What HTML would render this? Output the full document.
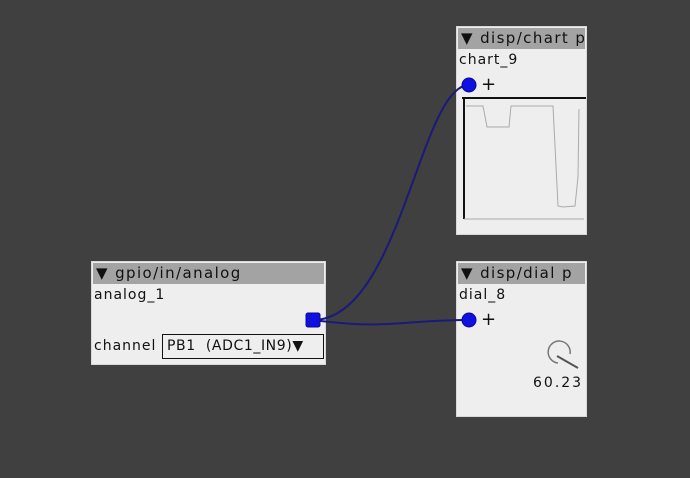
<!DOCTYPE html>
<html><head><style>
body{margin:0;width:690px;height:478px;background:#404040;position:relative;overflow:hidden;font-family:"DejaVu Sans","Liberation Sans",sans-serif;}
.box{position:absolute;background:#eeeeee;border:1px solid #d8d8d8;}
.hd{position:absolute;left:1px;right:1px;top:1px;height:21px;background:#a3a3a3;font-size:15px;letter-spacing:1.4px;line-height:21px;padding-left:3px;color:#111;white-space:nowrap;overflow:hidden;}
.t{position:absolute;font-size:14px;letter-spacing:1px;color:#111;white-space:nowrap;}
</style></head><body>
<div class="box" style="left:456px;top:26px;width:129px;height:207px;">
 <div class="hd">▼ disp/chart p</div>
 <div class="t" style="left:2px;top:25px;">chart_9</div>
 <div class="t" style="left:24px;top:47px;font-size:18px;">+</div>
 <svg style="position:absolute;left:0;top:0" width="129" height="207">
  <line x1="5" y1="71" x2="129" y2="71" stroke="#111" stroke-width="2"/>
  <line x1="7" y1="71" x2="7" y2="192" stroke="#111" stroke-width="2"/>
  <line x1="7" y1="192" x2="127" y2="192" stroke="#aaa" stroke-width="1"/>
  <polyline points="9,79 26,79 30,100 52,100 54,79 96,79 101,179 106,180 118,179 121,150 122,82" fill="none" stroke="#aaa" stroke-width="1"/>
 </svg>
</div>
<div class="box" style="left:91px;top:261px;width:233px;height:102px;">
 <div class="hd">▼ gpio/in/analog</div>
 <div class="t" style="left:2px;top:25px;">analog_1</div>
 <div class="t" style="left:2px;top:76px;">channel</div>
 <div style="position:absolute;left:70px;top:72px;width:162px;height:25px;border:1px solid #111;box-sizing:border-box;font-size:14px;letter-spacing:0.6px;line-height:23px;padding-left:4px;color:#111;white-space:pre;">PB1  (ADC1_IN9)▼</div>
</div>
<div class="box" style="left:456px;top:261px;width:129px;height:154px;">
 <div class="hd">▼ disp/dial p</div>
 <div class="t" style="left:2px;top:25px;">dial_8</div>
 <div class="t" style="left:24px;top:47px;font-size:18px;">+</div>
 <svg style="position:absolute;left:0;top:0" width="129" height="154">
  <path d="M101,101 A11,11 0 1 1 113,92" fill="none" stroke="#777" stroke-width="1.5"/>
  <line x1="100" y1="94" x2="121" y2="106" stroke="#555" stroke-width="2"/>
 </svg>
 <div class="t" style="left:76px;top:113px;letter-spacing:2px;">60.23</div>
</div>
<svg style="position:absolute;left:0;top:0" width="690" height="478">
 <path d="M313,320 C400,320 420,85 469,85" fill="none" stroke="#1a1a7a" stroke-width="2"/>
 <path d="M313,320 C390,330 400,320 469,320" fill="none" stroke="#1a1a7a" stroke-width="2"/>
 <rect x="306" y="313" width="14" height="14" rx="2" fill="#1010e0" stroke="#0a0a90"/>
 <circle cx="469" cy="85" r="7" fill="#1010e0" stroke="#0a0a90"/>
 <circle cx="469" cy="320" r="7" fill="#1010e0" stroke="#0a0a90"/>
</svg>
</body></html>
